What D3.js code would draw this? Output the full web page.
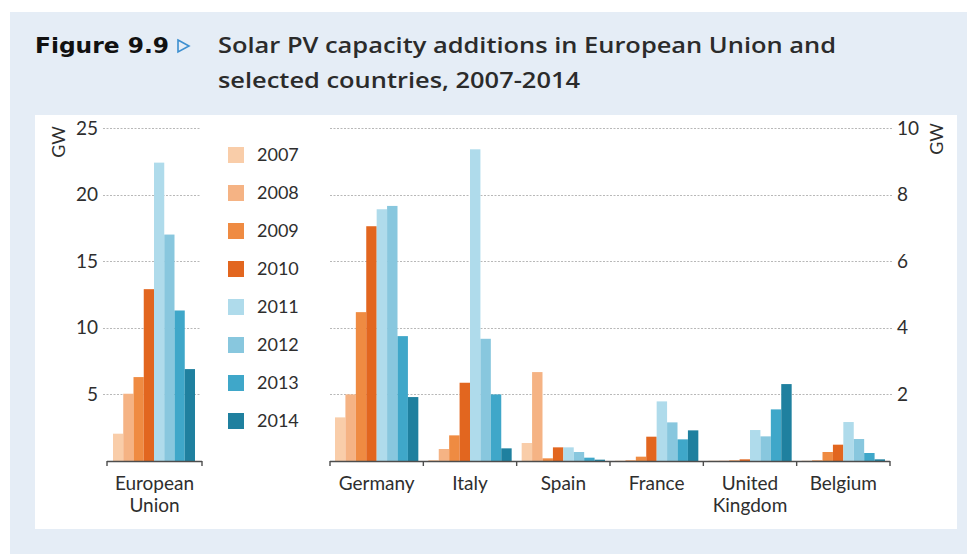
<!DOCTYPE html>
<html>
<head>
<meta charset="utf-8">
<script src="https://cdn.jsdelivr.net/npm/d3@7/dist/d3.min.js"></script>
<style>
  html, body { margin: 0; padding: 0; background: #ffffff; }
  svg { display: block; }
</style>
</head>
<body>
<svg id="chart" width="967" height="554"></svg>
<script>
// ---------- DATA ----------
const years = ["2007", "2008", "2009", "2010", "2011", "2012", "2013", "2014"];
const yearColors = ["#f9cda9", "#f5b384", "#ef8b42", "#e2661f", "#afdbeb", "#88c7de", "#3fa7c9", "#1f809f"];

const euRegion = ["European Union"];
const euValues = [2.05, 5.05, 6.3, 12.9, 22.4, 17.0, 11.3, 6.9];

const countries = ["Germany", "Italy", "Spain", "France", "United Kingdom", "Belgium"];
const germanyValues = [1.31, 2.0, 4.47, 7.05, 7.56, 7.66, 3.75, 1.92];
const italyValues   = [0.03, 0.36, 0.77, 2.35, 9.36, 3.67, 2.0, 0.38];
const spainValues   = [0.54, 2.67, 0.08, 0.41, 0.41, 0.27, 0.10, 0.04];
const franceValues  = [0.01, 0.03, 0.13, 0.73, 1.79, 1.16, 0.65, 0.92];
const ukValues      = [0.01, 0.01, 0.02, 0.05, 0.93, 0.74, 1.55, 2.31];
const belgiumValues = [0.01, 0.03, 0.27, 0.49, 1.17, 0.66, 0.24, 0.05];

const leftTicks = [5, 10, 15, 20, 25];
const rightTicks = [2, 4, 6, 8, 10];

const titleFigure = "Figure 9.9";
const titleLine1 = "Solar PV capacity additions in European Union and";
const titleLine2 = "selected countries, 2007-2014";
const unitLabel = "GW";

// build rows
const countryValues = [germanyValues, italyValues, spainValues, franceValues, ukValues, belgiumValues];
const countryRows = countries.map((c, i) => ({ name: c, values: countryValues[i] }));
const euRows = [{ name: euRegion[0], values: euValues }];

// ---------- LAYOUT ----------
const svg = d3.select("#chart");
const font = "Lato, 'Open Sans', 'Liberation Sans', sans-serif";
const titleFont = "'Open Sans', 'Liberation Sans', sans-serif";
const textColor = "#2e2e2e";

// backgrounds
svg.append("rect").attr("x", 10).attr("y", 12).attr("width", 957).attr("height", 542).attr("fill", "#e5edf6");
svg.append("rect").attr("x", 35).attr("y", 115).attr("width", 922).attr("height", 414).attr("fill", "#ffffff");

// title
svg.append("text").attr("x", 35).attr("y", 53)
  .attr("font-family", "'Liberation Sans Narrow', 'DejaVu Sans Condensed', 'Liberation Sans', sans-serif")
  .attr("font-weight", "bold").attr("font-size", 22).attr("fill", "#111")
  .attr("textLength", 134).attr("lengthAdjust", "spacingAndGlyphs")
  .text(titleFigure);
svg.append("path").attr("d", "M178,40 L189,46 L178,52 Z")
  .attr("fill", "none").attr("stroke", "#3d8fd0").attr("stroke-width", 1.6);
svg.append("text").attr("x", 218).attr("y", 53)
  .attr("font-family", titleFont).attr("font-weight", 600).attr("font-size", 21).attr("fill", "#2b2b2b")
  .attr("textLength", 618).attr("lengthAdjust", "spacingAndGlyphs")
  .text(titleLine1);
svg.append("text").attr("x", 218).attr("y", 88)
  .attr("font-family", titleFont).attr("font-weight", 600).attr("font-size", 21).attr("fill", "#2b2b2b")
  .attr("textLength", 362).attr("lengthAdjust", "spacingAndGlyphs")
  .text(titleLine2);

// scales
const y0 = 461, yTop = 128;
const yL = d3.scaleLinear().domain([0, 25]).range([y0, yTop]);
const yR = d3.scaleLinear().domain([0, 10]).range([y0, yTop]);

const xEU = d3.scaleBand().domain(euRegion).range([107, 202]).paddingInner(0).paddingOuter(0);
const xC = d3.scaleBand().domain(countries).range([330, 890]).paddingInner(0).paddingOuter(0);
const xYearEU = d3.scaleBand().domain(years).range([6, xEU.bandwidth() - 7]);
const xYear = d3.scaleBand().domain(years).range([5, xC.bandwidth() - 5]);
const color = d3.scaleOrdinal().domain(years).range(yearColors);

// gridlines
const grid = svg.append("g");
grid.selectAll("line.gl").data(leftTicks).join("line")
  .attr("x1", 103).attr("x2", 200)
  .attr("y1", d => Math.round(yL(d)) + 0.5).attr("y2", d => Math.round(yL(d)) + 0.5)
  .attr("stroke", "#b8b8b8").attr("stroke-width", 1).attr("stroke-dasharray", "2,1.5");
grid.selectAll("line.gr").data(rightTicks).join("line")
  .attr("x1", 330).attr("x2", 893)
  .attr("y1", d => Math.round(yR(d)) + 0.5).attr("y2", d => Math.round(yR(d)) + 0.5)
  .attr("stroke", "#b8b8b8").attr("stroke-width", 1).attr("stroke-dasharray", "2,1.5");

// bars EU
const gEU = svg.append("g");
euRows.forEach(r => {
  gEU.selectAll(null).data(years.map((yr, i) => ({ yr, v: r.values[i] }))).join("rect")
    .attr("x", d => xEU(r.name) + xYearEU(d.yr))
    .attr("width", xYearEU.bandwidth())
    .attr("y", d => yL(d.v))
    .attr("height", d => y0 - yL(d.v))
    .attr("fill", d => color(d.yr));
});

// bars countries
const gC = svg.append("g");
countryRows.forEach(r => {
  gC.selectAll(null).data(years.map((yr, i) => ({ yr, v: r.values[i] }))).join("rect")
    .attr("x", d => xC(r.name) + xYear(d.yr))
    .attr("width", xYear.bandwidth())
    .attr("y", d => yR(d.v))
    .attr("height", d => y0 - yR(d.v))
    .attr("fill", d => color(d.yr));
});

// baselines with boundary ticks
function baseline(scale, names) {
  const g = svg.append("g");
  const r = scale.range();
  g.append("line").attr("x1", r[0]).attr("x2", r[1]).attr("y1", y0 + 0.5).attr("y2", y0 + 0.5)
    .attr("stroke", "#4d4d4d").attr("stroke-width", 1.6);
  const bounds = names.map(n => scale(n)).concat([scale(names[names.length - 1]) + scale.bandwidth()]);
  g.selectAll("line.t").data(bounds).join("line")
    .attr("x1", d => d).attr("x2", d => d).attr("y1", y0).attr("y2", y0 + 5)
    .attr("stroke", "#4d4d4d").attr("stroke-width", 1.4);
}
baseline(xEU, euRegion);
baseline(xC, countries);

// category labels
function catLabels(scale, names) {
  const g = svg.append("g").attr("font-family", font).attr("font-size", 19).attr("fill", textColor)
    .attr("text-anchor", "middle");
  names.forEach(n => {
    const parts = n === "European Union" ? ["European", "Union"] : n === "United Kingdom" ? ["United", "Kingdom"] : [n];
    const t = g.append("text").attr("x", scale(n) + scale.bandwidth() / 2).attr("y", 490);
    parts.forEach((p, i) => t.append("tspan").attr("x", scale(n) + scale.bandwidth() / 2).attr("dy", i === 0 ? 0 : 22).text(p));
  });
}
catLabels(xEU, euRegion);
catLabels(xC, countries);

// left axis
const axL = svg.append("g").attr("transform", "translate(98,0)")
  .call(d3.axisLeft(yL).tickValues(leftTicks).tickSize(0).tickPadding(0).tickFormat(d3.format("d")));
axL.select(".domain").remove();
axL.selectAll("text").attr("font-family", font).attr("font-size", 19).attr("fill", textColor);

// right axis
const axR = svg.append("g").attr("transform", "translate(897,0)")
  .call(d3.axisRight(yR).tickValues(rightTicks).tickSize(0).tickPadding(0).tickFormat(d3.format("d")));
axR.select(".domain").remove();
axR.selectAll("text").attr("font-family", font).attr("font-size", 19).attr("fill", textColor);

// unit labels
svg.append("text").attr("transform", "translate(65,142) rotate(-90)")
  .attr("text-anchor", "middle").attr("font-family", font).attr("font-size", 18).attr("fill", textColor)
  .text(unitLabel);
svg.append("text").attr("transform", "translate(943,139) rotate(-90)")
  .attr("text-anchor", "middle").attr("font-family", font).attr("font-size", 18).attr("fill", textColor)
  .text(unitLabel);

// legend
const legend = svg.append("g").attr("font-family", font).attr("font-size", 18).attr("fill", textColor);
const legY = d3.scalePoint().domain(years).range([155, 421]);
legend.selectAll("rect").data(years).join("rect")
  .attr("x", 228).attr("y", d => legY(d) - 8).attr("width", 16).attr("height", 16)
  .attr("fill", d => color(d));
legend.selectAll("text").data(years).join("text")
  .attr("x", 257).attr("y", d => legY(d)).attr("dy", "0.35em").text(d => d);
</script>
</body>
</html>
